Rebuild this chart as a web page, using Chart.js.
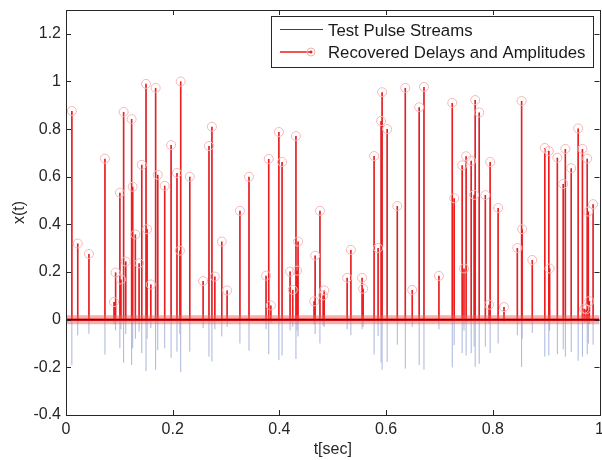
<!DOCTYPE html>
<html>
<head>
<meta charset="utf-8">
<script src="https://cdn.jsdelivr.net/npm/chart.js@4.4.1/dist/chart.umd.min.js"></script>
<style>
  html, body { margin: 0; padding: 0; background: #fff; }
  #wrap { width: 602px; height: 460px; }
</style>
</head>
<body>
<div id="wrap"><canvas id="c" width="602" height="460"></canvas></div>
<script>
// pulse delays (sec) and recovered amplitudes
const delays = [
  0.011, 0.022, 0.043, 0.073, 0.090, 0.093, 0.101, 0.103, 0.108, 0.112,
  0.123, 0.125, 0.130, 0.137, 0.142, 0.150, 0.152, 0.159, 0.168, 0.172,
  0.185, 0.197, 0.208, 0.2135, 0.215, 0.232, 0.257, 0.268, 0.2735, 0.279,
  0.292, 0.302, 0.326, 0.343, 0.375, 0.380, 0.384, 0.399, 0.405, 0.420,
  0.425, 0.431, 0.433, 0.435, 0.465, 0.467, 0.476, 0.482, 0.484, 0.527,
  0.534, 0.555, 0.557, 0.5775, 0.585, 0.5906, 0.5925, 0.602, 0.621, 0.636,
  0.649, 0.662, 0.671, 0.699, 0.724, 0.7276, 0.7426, 0.746, 0.750, 0.7595,
  0.765, 0.767, 0.7745, 0.786, 0.793, 0.795, 0.810, 0.821, 0.846, 0.854,
  0.855, 0.874, 0.8975, 0.905, 0.9065, 0.921, 0.932, 0.936, 0.947, 0.960,
  0.968, 0.9715, 0.975, 0.977, 0.979, 0.981, 0.988
];
const amps = [
  0.876, 0.32, 0.276, 0.676, 0.074, 0.198, 0.533, 0.169, 0.872, 0.244,
  0.842, 0.558, 0.358, 0.237, 0.65, 0.99, 0.38, 0.148, 0.973, 0.608,
  0.562, 0.733, 0.616, 0.29, 1.0, 0.6, 0.162, 0.729, 0.81, 0.181,
  0.328, 0.123, 0.457, 0.6, 0.185, 0.675, 0.06, 0.788, 0.662, 0.202,
  0.125, 0.771, 0.206, 0.328, 0.077, 0.269, 0.457, 0.102, 0.123, 0.176,
  0.293, 0.176, 0.13, 0.687, 0.301, 0.834, 0.955, 0.80, 0.477, 0.973,
  0.125, 0.892, 0.977, 0.184, 0.91, 0.51, 0.648, 0.215, 0.686, 0.667,
  0.524, 0.922, 0.87, 0.523, 0.063, 0.662, 0.469, 0.053, 0.301, 0.918,
  0.38, 0.251, 0.721, 0.708, 0.215, 0.68, 0.57, 0.717, 0.636, 0.803,
  0.717, 0.046, 0.043, 0.676, 0.454, 0.078, 0.485
];
// negative lobe of the test pulses (blue, below zero)
const undershoot = [
  -0.19, -0.066, -0.059, -0.146, -0.02, -0.045, -0.12, -0.04, -0.18, -0.06,
  -0.19, -0.12, -0.08, -0.05, -0.14, -0.216, -0.08, -0.035, -0.21, -0.128,
  -0.12, -0.16, -0.134, -0.06, -0.22, -0.134, -0.035, -0.155, -0.175, -0.04,
  -0.07, -0.03, -0.1, -0.13, -0.04, -0.145, -0.015, -0.17, -0.15, -0.045,
  -0.03, -0.165, -0.045, -0.07, -0.02, -0.06, -0.1, -0.025, -0.03, -0.04,
  -0.065, -0.04, -0.03, -0.146, -0.068, -0.18, -0.21, -0.177, -0.105, -0.205,
  -0.03, -0.19, -0.21, -0.04, -0.2, -0.107, -0.14, -0.046, -0.15, -0.14,
  -0.113, -0.198, -0.185, -0.113, -0.015, -0.14, -0.1, -0.012, -0.065, -0.198,
  -0.08, -0.055, -0.155, -0.15, -0.046, -0.145, -0.125, -0.155, -0.135, -0.172,
  -0.155, -0.012, -0.01, -0.145, -0.1, -0.018, -0.105
];
const xTicks = [0, 0.2, 0.4, 0.6, 0.8, 1];
const yTicks = [-0.4, -0.2, 0, 0.2, 0.4, 0.6, 0.8, 1, 1.2];

const redStems = delays.flatMap((t, i) => [{x: t, y: 0}, {x: t, y: amps[i]}, {x: t, y: null}]);
const blueStems = delays.flatMap((t, i) => [{x: t, y: undershoot[i]}, {x: t, y: amps[i]}, {x: t, y: null}]);
const tops = delays.map((t, i) => ({x: t, y: amps[i]}));
const zeroLine = [{x: 0, y: 0}, {x: 1, y: 0}];

Chart.defaults.font.family = '"Liberation Sans", Arial, sans-serif';
Chart.defaults.color = '#262626';

const fmt = v => String(+(+v).toFixed(1));

// matlab style box with inward ticks, plus the legend
const boxPlugin = {
  id: 'box',
  afterLayout(chart) {
    // the "1" label overflow pushes the plot in, put the right edge back
    const a = chart.chartArea, s = chart.scales.x;
    a.right = 599.5; a.width = a.right - a.left;
    s.right = 599.5; s.width = s.right - s.left;
    s.configure();
  },
  afterDraw(chart) {
    const {ctx, chartArea: a, scales} = chart;
    ctx.save();
    ctx.strokeStyle = '#262626';
    ctx.lineWidth = 1;
    ctx.beginPath();
    xTicks.forEach(v => {
      const px = Math.round(scales.x.getPixelForValue(v)) + 0.5;
      ctx.moveTo(px, a.bottom); ctx.lineTo(px, a.bottom - 5);
      ctx.moveTo(px, a.top); ctx.lineTo(px, a.top + 5);
    });
    yTicks.forEach(v => {
      const py = Math.round(scales.y.getPixelForValue(v)) + 0.5;
      ctx.moveTo(a.left, py); ctx.lineTo(a.left + 5, py);
      ctx.moveTo(a.right, py); ctx.lineTo(a.right - 5, py);
    });
    ctx.stroke();
    ctx.strokeRect(Math.round(a.left) + 0.5, Math.round(a.top) + 0.5,
                   Math.round(a.right - a.left), Math.round(a.bottom - a.top));

    // legend
    const lx = 271.5, ly = 16.5, lw = 322, lh = 51;
    ctx.fillStyle = '#fff';
    ctx.fillRect(lx, ly, lw, lh);
    ctx.strokeRect(lx, ly, lw, lh);
    ctx.font = '16.8px "Liberation Sans", Arial, sans-serif';
    ctx.textBaseline = 'middle';
    ctx.fillStyle = '#1a1a1a';
    ctx.strokeStyle = '#23408e';
    ctx.beginPath(); ctx.moveTo(280, 29.5); ctx.lineTo(323, 29.5); ctx.stroke();
    ctx.fillText('Test Pulse Streams', 328, 31);
    ctx.strokeStyle = '#ee1c1c';
    ctx.lineWidth = 1.5;
    ctx.beginPath(); ctx.moveTo(280, 52); ctx.lineTo(311, 52); ctx.stroke();
    ctx.strokeStyle = '#f7b0b0';
    ctx.lineWidth = 1;
    ctx.beginPath(); ctx.arc(311, 52, 4, 0, Math.PI * 2); ctx.stroke();
    ctx.fillStyle = '#ee1c1c';
    ctx.beginPath(); ctx.arc(311, 52, 1.5, 0, Math.PI * 2); ctx.fill();
    ctx.fillStyle = '#1a1a1a';
    ctx.fillText('Recovered Delays and Amplitudes', 328, 53.5);
    ctx.restore();
  }
};

new Chart(document.getElementById('c'), {
  type: 'scatter',
  data: {
    datasets: [
      { data: zeroLine, showLine: true, borderColor: '#3a0000', borderWidth: 1, pointRadius: 0, order: 0 },
      { data: zeroLine, showLine: true, borderColor: '#e81c1c', borderWidth: 2.5, pointRadius: 0, order: 1 },
      { data: zeroLine, showLine: true, borderColor: 'rgba(236,100,100,0.5)', borderWidth: 9, pointRadius: 0, order: 2 },
      { data: tops, showLine: false, pointStyle: 'circle', pointRadius: 4.5, borderColor: '#f8b6b6',
        backgroundColor: 'rgba(0,0,0,0)', borderWidth: 1, order: 3 },
      { data: redStems, showLine: true, spanGaps: false, borderColor: '#ee1c1c', borderWidth: 1.6, pointRadius: 0, order: 4 },
      { data: blueStems, showLine: true, spanGaps: false, borderColor: '#a9b6dc', borderWidth: 1, pointRadius: 0, order: 5 }
    ]
  },
  options: {
    responsive: false,
    animation: false,
    devicePixelRatio: 1,
    layout: { padding: { left: 0, right: 2, top: 10, bottom: 0 } },
    plugins: { legend: { display: false }, tooltip: { enabled: false } },
    scales: {
      x: {
        type: 'linear', min: 0, max: 1,
        afterBuildTicks: s => { s.ticks = xTicks.map(v => ({value: v})); },
        afterFit: s => { s.height = 45; },
        ticks: { callback: fmt, font: { size: 16 }, padding: 5, maxRotation: 0, color: '#262626' },
        grid: { display: false, drawTicks: false },
        border: { display: false },
        title: { display: true, text: 't[sec]', font: { size: 16 }, color: '#262626', padding: { top: 0, bottom: 1 } }
      },
      y: {
        min: -0.4, max: 1.3,
        afterBuildTicks: s => { s.ticks = yTicks.map(v => ({value: v})); },
        afterFit: s => { s.width = 66; s.paddingTop = 0; s.paddingBottom = 0; },
        ticks: { callback: fmt, font: { size: 16 }, padding: 5, color: '#262626' },
        grid: { display: false, drawTicks: false },
        border: { display: false },
        title: { display: true, text: 'x(t)', font: { size: 16 }, color: '#262626', padding: { top: 10, bottom: 0 } }
      }
    }
  },
  plugins: [boxPlugin]
});
</script>
</body>
</html>
